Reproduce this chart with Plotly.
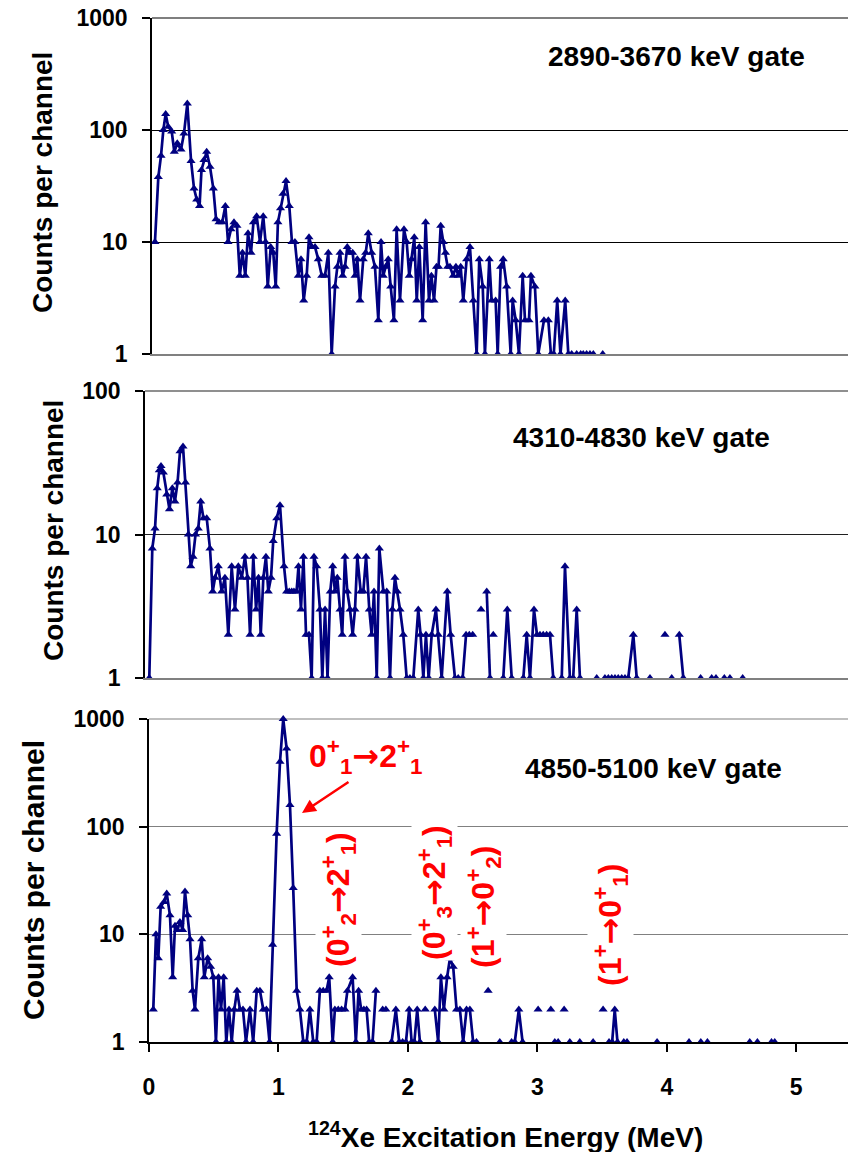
import plotly.graph_objects as go

# Gated 124Xe excitation-energy spectra.
# Energies in keV, counts per channel; None marks an empty channel (gap on the log axis).

# 2890-3670 keV gate
e_gate1 = [23, 49, 70, 88, 106, 126, 153, 173, 196, 225,
           248, 274, 303, 326, 347, 369, 384, 403, 424, 450,
           476, 497, 520, 545, 569, 590, 613, 636, 659, 681,
           702, 724, 745, 768, 787, 812, 838, 863, 881, 898,
           921, 941, 960, 977, 997, 1016, 1040, 1065, 1086, 1109,
           1135, 1156, 1177, 1200, 1218, 1241, 1265, 1290, 1317, 1342,
           1368, 1394, 1420, 1438, 1459, 1479, 1497, 1515, 1536, 1557,
           1575, 1593, 1614, 1639, 1658, 1678, 1704, 1730, 1756, 1777,
           1794, 1813, 1833, 1852, 1877, 1898, 1924, 1955, 1976, 1996,
           2015, 2035, 2054, 2074, 2100, 2123, 2149, 2168, 2188, 2207,
           2223, 2240, 2260, 2277, 2294, 2312, 2337, 2358, 2376, 2395,
           2415, 2441, 2467, 2493, 2519, 2539, 2566, 2583, 2617, 2635,
           2666, 2682, 2705, 2725, 2752, 2783, 2798, 2822, 2847, 2876,
           2894, 2925, 2940, 2971, 2997, 3041, 3075, 3095, 3117, 3144,
           3169, 3206, 3230, 3256, 3295, 3326, 3346, 3372, 3398, 3424,
           3460, 3497]
c_gate1 = [10, 38, 59, 100, 139, 107, 97, 64, 76, 67,
           93, 172, 53, 30, 24, 21, 44, 54, 64, 47,
           30, 16, 15, 15, 21, 10, 13, 15, 14, 5,
           8, 5, 12, 8, 15, 17, 10, 17, 10, 4,
           9, 8, 4, 15, 20, 27, 35, 21, 10, 10,
           5, 7, 3, 5, 11, 9, 9, 7, 5, 5,
           8, 1, 4, 6, 8, 5, 6, 9, 8, 8,
           5, 7, 3, 7, 8, 12, 8, 6, 2, 10,
           5, 6, 7, 4, 2, 13, 3, 13, 10, 5,
           7, 11, 3, 9, 2, 15, 3, 5, 3, 6,
           6, 14, 10, 8, 6, 6, 5, 6, 5, 6,
           3, 7, 9, 3, 1, 7, 4, 1, 7, 3,
           3, 1, 6, 7, 4, 1, 3, 2, 1, 5,
           2, 2, 5, 4, 1, 2, 2, 1, 1, 3,
           1, 3, 1, 1, 1, 1, 1, 1, 1, 1,
           None, 1]

# 4310-4830 keV gate
e_gate2 = [33, 56, 77, 94, 110, 123, 141, 167, 188, 210,
           230, 250, 269, 292, 311, 333, 351, 369, 388, 409,
           428, 449, 474, 499, 520, 538, 563, 589, 614, 640,
           666, 691, 717, 743, 768, 787, 807, 832, 853, 872,
           889, 909, 929, 947, 968, 985, 1012, 1037, 1068, 1088,
           1108, 1127, 1144, 1164, 1179, 1198, 1217, 1237, 1260, 1280,
           1298, 1319, 1344, 1362, 1383, 1402, 1423, 1442, 1459, 1477,
           1498, 1515, 1536, 1554, 1575, 1595, 1613, 1631, 1657, 1677,
           1698, 1723, 1741, 1759, 1780, 1800, 1831, 1857, 1882, 1900,
           1920, 1938, 1959, 1984, 2010, 2035, 2061, 2099, 2117, 2138,
           2158, 2179, 2202, 2235, 2253, 2279, 2322, 2348, 2381, 2406,
           2440, 2466, 2491, 2517, 2550, 2581, 2600, 2625, 2650, 2662,
           2675, 2710, 2752, 2783, 2817, 2860, 2906, 2932, 2957, 2988,
           3011, 3034, 3059, 3085, 3111, 3136, 3170, 3201, 3226, 3264,
           3289, 3316, 3341, 3400, 3470, 3500, 3533, 3559, 3585, 3610,
           3635, 3662, 3687, 3712, 3751, 3777, 3830, 3879, 3940, 3994,
           4020, 4046, 4075, 4104, 4135, 4200, 4268, 4310, 4353, 4370,
           4386, 4420, 4450, 4470, 4493, 4540, 4591]
c_gate2 = [1, 8, 11, 21, 28, 30, 27, 19, 15, 21,
           17, 23, 38, 41, 23, 10, 6, 7, 10, 11,
           17, 13, 13, 8, 4, 5, 6, 4, 5, 2,
           6, 3, 6, 5, 7, 5, 2, 7, 3, 5,
           2, 5, 7, 4, 5, 9, 13, 16, 6, 4,
           4, 4, 4, 4, 6, 3, 7, 2, 2, 1,
           7, 6, 3, 1, 3, 1, 4, 6, 4, 5,
           3, 2, 7, 4, 3, 2, 3, 7, 4, 4,
           7, 3, 2, 4, 1, 8, 4, 4, 1, 3,
           5, 4, 3, 2, 1, 1, 1, 3, 2, 1,
           2, 1, 2, 3, 2, 1, 4, 2, 1, 1,
           1, 2, 2, 2, None, 3, None, 4, 1, None,
           2, None, 1, 3, 1, None, 1, 2, 1, 3,
           2, 2, 2, 2, 2, 1, None, 1, 6, 1,
           1, 3, 1, None, 1, None, 1, 1, 1, 1,
           1, 1, 1, 1, 2, 1, None, 1, None, 2,
           None, 1, None, 2, 1, None, 1, None, 1, None,
           1, None, 1, None, 1, None, 1]

# 4850-5100 keV gate
e_gate3 = [33, 54, 72, 90, 116, 137, 162, 183, 201, 219,
           239, 260, 278, 299, 317, 337, 355, 381, 407, 427,
           453, 476, 497, 517, 537, 556, 577, 597, 618, 639,
           659, 680, 703, 726, 749, 780, 805, 832, 857, 883,
           907, 931, 955, 986, 1012, 1037, 1063, 1089, 1114, 1141,
           1166, 1192, 1218, 1243, 1269, 1295, 1320, 1346, 1372, 1392,
           1419, 1436, 1462, 1488, 1514, 1533, 1573, 1598, 1619, 1639,
           1660, 1681, 1701, 1727, 1753, 1779, 1805, 1830, 1856, 1874,
           1907, 1933, 1959, 1985, 2010, 2029, 2050, 2072, 2093, 2113,
           2134, 2170, 2208, 2234, 2255, 2278, 2303, 2325, 2350, 2376,
           2402, 2427, 2453, 2479, 2504, 2530, 2575, 2620, 2665, 2710,
           2755, 2801, 2826, 2857, 2886, 2945, 3006, 3055, 3104, 3120,
           3135, 3161, 3185, 3207, 3230, 3251, 3290, 3328, 3380, 3431,
           3470, 3508, 3530, 3554, 3578, 3598, 3619, 3645, 3668, 3693,
           3800, 3925, 4050, 4172, 4220, 4263, 4290, 4314, 4480, 4641,
           4670, 4700, 4750, 4809, 4834]
c_gate3 = [2, 10, 6, 18, 20, 24, 15, 4, 12, 11,
           13, 11, 25, 15, 9, 3, 2, 6, 9, 4,
           6, 5, 4, 1, 4, 2, 4, 1, 2, 1,
           2, 3, 2, 2, 1, 2, 1, 3, 3, 2,
           2, 1, 8, 86, 401, 1000, 533, 159, 27, 3,
           2, 1, 1, 2, 1, 1, 3, 3, 3, 4,
           1, 2, 2, 2, 2, 3, 4, 1, 3, 2,
           2, 2, 1, 1, 3, None, 2, 2, None, 1,
           2, 1, 1, 1, 2, 1, 1, 2, 1, None,
           2, None, 2, 1, 4, 2, 4, 6, 5, 2,
           2, 1, 2, 2, 1, 1, None, 3, None, 1,
           None, 1, 1, 2, 1, None, 2, None, 2, None,
           1, 1, None, 2, None, 1, None, 1, None, 1,
           None, 2, None, 1, 1, 2, 1, None, 1, 1,
           None, 1, None, 1, None, 1, None, 1, None, 1,
           None, 1, None, 1, 1]

gate_labels = ["2890-3670 keV gate", "4310-4830 keV gate", "4850-5100 keV gate"]
y_ticks = [1, 10, 100, 1000]
x_ticks = [0, 1, 2, 3, 4, 5]

W, H = 849, 1152
FONT = "Liberation Sans, Arial, sans-serif"
NAVY = "#000080"
RED = "#ff0000"
ARROW = '<span style="font-family:DejaVu Sans">→</span>'


def fx(p):
    return p / W


def fy(p):
    return 1 - p / H


fig = go.Figure()

series = [(e_gate1, c_gate1, "x", "y"),
          (e_gate2, c_gate2, "x2", "y2"),
          (e_gate3, c_gate3, "x3", "y3")]
for e, c, xa, ya in series:
    assert len(e) == len(c)
    fig.add_trace(go.Scatter(
        x=[v / 1000 for v in e], y=c, xaxis=xa, yaxis=ya,
        mode="lines+markers", connectgaps=False, cliponaxis=False,
        line=dict(color=NAVY, width=2.7),
        marker=dict(symbol="triangle-up", size=8, color=NAVY),
        showlegend=False, hoverinfo="skip"))

tickfont = dict(family=FONT, size=23, color="black", weight="bold")

# pixel geometry of each panel: left, right, top (max decade), bottom (1)
panels = [
    dict(l=152, r=848, t=18, b=354, ymax=3, grid="#000000", xline="#808080"),
    dict(l=145, r=848, t=391, b=678, ymax=2, grid="#202020", xline="#808080"),
    dict(l=149, r=848, t=719, b=1042, ymax=3, grid="#808080", xline="#000000"),
]

layout_axes = {}
shapes = []
for i, p in enumerate(panels, start=1):
    sfx = "" if i == 1 else str(i)
    vals = [v for v in y_ticks if v <= 10 ** p["ymax"]]
    layout_axes["xaxis" + sfx] = dict(
        domain=[fx(p["l"]), fx(p["r"])], range=[0, 5.4], anchor="y" + sfx,
        automargin=False,
        showline=True, linecolor=p["xline"], linewidth=1.5,
        showgrid=False, zeroline=False,
        ticks="outside" if i == 3 else "", ticklen=8, tickwidth=1.5,
        tickcolor="black",
        tickvals=x_ticks if i == 3 else [],
        ticktext=[str(v) for v in x_ticks] if i == 3 else [],
        showticklabels=(i == 3), tickfont=tickfont, ticklabelstandoff=16)
    layout_axes["yaxis" + sfx] = dict(
        domain=[fy(p["b"]), fy(p["t"])], type="log",
        range=[0, p["ymax"]], automargin=False,
        anchor="x" + sfx, showline=True, linecolor="black", linewidth=1.5,
        showgrid=True, gridcolor=p["grid"], gridwidth=1.2, zeroline=False,
        ticks="outside", ticklen=8, tickwidth=1.5, tickcolor="black",
        tickvals=vals, ticktext=[str(v) for v in vals],
        tickfont=tickfont, ticklabelstandoff=10)
    # gridline at the top decade of the panel
    shapes.append(dict(
        type="line", xref="paper", yref="paper", layer="below",
        x0=fx(p["l"]), x1=fx(p["r"]), y0=fy(p["t"]), y1=fy(p["t"]),
        line=dict(color=p["grid"], width=1.2)))

annotations = []

# y-axis titles
for (cx, cy, size) in [(43, 183, 28), (53, 531, 28), (33, 880, 30)]:
    annotations.append(dict(
        x=fx(cx), y=fy(cy), xref="paper", yref="paper", showarrow=False,
        text="Counts per channel", textangle=-90,
        font=dict(family=FONT, size=size, color="black", weight="bold"),
        xanchor="center", yanchor="middle"))

# gate labels
for (cx, cy), label in zip([(676, 57), (641, 437), (653, 768)], gate_labels):
    annotations.append(dict(
        x=fx(cx), y=fy(cy), xref="paper", yref="paper", showarrow=False,
        text=label, font=dict(family=FONT, size=28, color="black", weight="bold"),
        xanchor="center", yanchor="middle"))

# x-axis title
annotations.append(dict(
    x=fx(505), y=fy(1135), xref="paper", yref="paper", showarrow=False,
    text="<sup>124</sup>Xe Excitation Energy (MeV)",
    font=dict(family=FONT, size=28, color="black", weight="bold"),
    xanchor="center", yanchor="middle"))

# transition labels in the lowest panel
annotations.append(dict(
    x=fx(365), y=fy(756), xref="paper", yref="paper", showarrow=False,
    text="0<sup>+</sup><sub>1</sub>" + ARROW + "2<sup>+</sup><sub>1</sub>",
    font=dict(family=FONT, size=32, color=RED, weight="bold"),
    xanchor="center", yanchor="middle"))
annotations.append(dict(
    x=fx(302), y=fy(813), xref="paper", yref="paper", showarrow=True,
    ax=48, ay=-32, text="", arrowhead=2, arrowsize=1.1, arrowwidth=2.5,
    arrowcolor=RED))

vertical_labels = [
    ("(0<sup>+</sup><sub>2</sub>" + ARROW + "2<sup>+</sup><sub>1</sub>)", 338, 900),
    ("(0<sup>+</sup><sub>3</sub>" + ARROW + "2<sup>+</sup><sub>1</sub>)", 434, 893),
    ("(1<sup>+</sup>" + ARROW + "0<sup>+</sup><sub>2</sub>)", 483, 907),
    ("(1<sup>+</sup>" + ARROW + "0<sup>+</sup><sub>1</sub>)", 610, 925),
]
for text, cx, cy in vertical_labels:
    annotations.append(dict(
        x=fx(cx), y=fy(cy), xref="paper", yref="paper", showarrow=False,
        text=text, textangle=-90, bgcolor="white", borderpad=0,
        font=dict(family=FONT, size=32, color=RED, weight="bold"),
        xanchor="center", yanchor="middle"))

fig.update_layout(
    width=W, height=H, margin=dict(l=0, r=0, t=0, b=0),
    paper_bgcolor="white", plot_bgcolor="white",
    annotations=annotations, shapes=shapes, **layout_axes)

fig.write_html("out.html")
